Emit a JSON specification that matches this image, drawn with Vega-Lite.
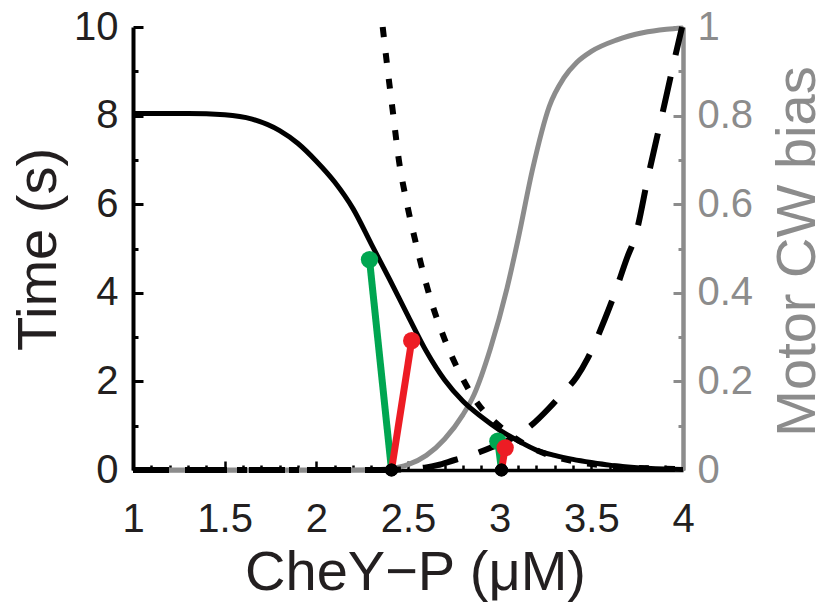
{
  "$schema": "https://vega.github.io/schema/vega-lite/v6.json",
  "width": 550,
  "height": 443,
  "autosize": {"type": "none"},
  "padding": {"left": 133, "top": 27, "right": 142, "bottom": 136},
  "background": "white",
  "config": {
    "view": {"stroke": null},
    "font": "Liberation Sans",
    "axis": {"grid": false, "labelFont": "Liberation Sans", "titleFont": "Liberation Sans", "titleFontWeight": "normal", "labelFontSize": 40, "titleFontSize": 56, "labelOverlap": false, "labelFlush": false}
  },
  "datasets": {
    "bias": [
      {"x": 1.0, "b": 0}, {"x": 1.5, "b": 0}, {"x": 2.0, "b": 0}, {"x": 2.3, "b": 0.0005},
      {"x": 2.4, "b": 0.003}, {"x": 2.5, "b": 0.012}, {"x": 2.6, "b": 0.033}, {"x": 2.7, "b": 0.07},
      {"x": 2.8, "b": 0.125}, {"x": 2.86, "b": 0.17}, {"x": 2.95, "b": 0.275}, {"x": 3.04, "b": 0.41},
      {"x": 3.1, "b": 0.52}, {"x": 3.18, "b": 0.68}, {"x": 3.27, "b": 0.82}, {"x": 3.35, "b": 0.885},
      {"x": 3.42, "b": 0.92}, {"x": 3.5, "b": 0.945}, {"x": 3.64, "b": 0.971}, {"x": 3.78, "b": 0.987},
      {"x": 3.91, "b": 0.995}, {"x": 4.0, "b": 0.998}
    ],
    "curve": [
      {"x": 1.0, "t": 8.05}, {"x": 1.3, "t": 8.05}, {"x": 1.5, "t": 8.02}, {"x": 1.65, "t": 7.92},
      {"x": 1.8, "t": 7.66}, {"x": 1.9, "t": 7.37}, {"x": 2.0, "t": 6.97}, {"x": 2.1, "t": 6.5},
      {"x": 2.2, "t": 5.9}, {"x": 2.3, "t": 5.1}, {"x": 2.4, "t": 4.3}, {"x": 2.5, "t": 3.48},
      {"x": 2.6, "t": 2.68}, {"x": 2.7, "t": 2.03}, {"x": 2.8, "t": 1.55}, {"x": 2.9, "t": 1.2},
      {"x": 3.0, "t": 0.9}, {"x": 3.1, "t": 0.66}, {"x": 3.2, "t": 0.45}, {"x": 3.3, "t": 0.33},
      {"x": 3.4, "t": 0.24}, {"x": 3.5, "t": 0.17}, {"x": 3.6, "t": 0.11}, {"x": 3.7, "t": 0.07},
      {"x": 3.8, "t": 0.04}, {"x": 3.9, "t": 0.02}, {"x": 4.0, "t": 0.01}
    ],
    "dotted": [
      {"seg": "low", "x": 1.0, "t": 0}, {"seg": "low", "x": 2.36, "t": 0},
      {"seg": "high", "x": 2.362, "t": 10}, {"seg": "high", "x": 2.39, "t": 9.0},
      {"seg": "high", "x": 2.42, "t": 8.0}, {"seg": "high", "x": 2.45, "t": 7.0},
      {"seg": "high", "x": 2.49, "t": 6.1}, {"seg": "high", "x": 2.55, "t": 5.0},
      {"seg": "high", "x": 2.62, "t": 3.9}, {"seg": "high", "x": 2.7, "t": 2.95},
      {"seg": "high", "x": 2.8, "t": 2.05}, {"seg": "high", "x": 2.88, "t": 1.5},
      {"seg": "high", "x": 2.98, "t": 1.06}, {"seg": "high", "x": 3.05, "t": 0.82},
      {"seg": "high", "x": 3.2, "t": 0.45}, {"seg": "high", "x": 3.4, "t": 0.2},
      {"seg": "high", "x": 3.6, "t": 0.09}, {"seg": "high", "x": 3.8, "t": 0.04},
      {"seg": "high", "x": 4.0, "t": 0.02}
    ],
    "dashed": [
      {"x": 1.0, "t": 0}, {"x": 2.4, "t": 0}, {"x": 2.5, "t": 0.02}, {"x": 2.6, "t": 0.06},
      {"x": 2.66, "t": 0.11}, {"x": 2.75, "t": 0.22}, {"x": 2.85, "t": 0.34}, {"x": 2.95, "t": 0.5},
      {"x": 3.06, "t": 0.7}, {"x": 3.17, "t": 1.0}, {"x": 3.27, "t": 1.4}, {"x": 3.34, "t": 1.72},
      {"x": 3.42, "t": 2.1}, {"x": 3.48, "t": 2.52}, {"x": 3.575, "t": 3.42}, {"x": 3.62, "t": 3.9},
      {"x": 3.695, "t": 4.79}, {"x": 3.74, "t": 5.28}, {"x": 3.81, "t": 6.63}, {"x": 3.89, "t": 8.09},
      {"x": 3.95, "t": 9.2}, {"x": 3.995, "t": 10}
    ],
    "stems": [
      {"pair": 1, "model": "A", "end": "base", "x": 2.41, "t": 0},
      {"pair": 1, "model": "A", "end": "tip", "x": 2.29, "t": 4.75},
      {"pair": 1, "model": "B", "end": "base", "x": 2.41, "t": 0},
      {"pair": 1, "model": "B", "end": "tip", "x": 2.52, "t": 2.92},
      {"pair": 2, "model": "A", "end": "base", "x": 3.01, "t": 0},
      {"pair": 2, "model": "A", "end": "tip", "x": 2.99, "t": 0.65},
      {"pair": 2, "model": "B", "end": "base", "x": 3.01, "t": 0},
      {"pair": 2, "model": "B", "end": "tip", "x": 3.03, "t": 0.5}
    ]
  },
  "layer": [
    {
      "data": {"name": "bias"},
      "mark": {"type": "line", "color": "#8c8c8c", "strokeWidth": 5, "interpolate": "monotone"},
      "encoding": {
        "x": {
          "field": "x", "type": "quantitative",
          "scale": {"domain": [1, 4], "nice": false, "zero": false},
          "axis": {
            "orient": "bottom",
            "values": [1, 1.5, 2, 2.5, 3, 3.5, 4],
            "format": "~g",
            "labelOverlap": false, "labelFlush": false, "labelBound": false,
            "tickSize": -9,
            "tickColor": "black", "tickWidth": 2.5,
            "domainColor": "black", "domainWidth": 3.5,
            "labelColor": "#231f20", "labelPadding": 38,
            "title": "CheY−P (μM)", "titleColor": "#231f20",
            "titleX": 282, "titleY": 119, "titleAlign": "center", "titleBaseline": "alphabetic"
          }
        },
        "y": {
          "field": "b", "type": "quantitative",
          "scale": {"domain": [0, 1], "nice": false},
          "axis": {
            "orient": "right",
            "values": [0, 0.1, 0.2, 0.3, 0.4, 0.5, 0.6, 0.7, 0.8, 0.9, 1],
            "labelExpr": "abs(datum.value*5 - round(datum.value*5)) < 0.001 ? format(datum.value, '~g') : ''",
            "tickSize": {"condition": {"test": "abs(datum.value*5 - round(datum.value*5)) < 0.001", "value": -10}, "value": -5},
            "tickColor": "#8c8c8c", "tickWidth": 3,
            "domainColor": "#8c8c8c", "domainWidth": 4.5,
            "labelColor": "#8c8c8c", "labelPadding": 24, "labelAlign": "left", "labelBaseline": "middle",
            "title": "Motor CW bias", "titleColor": "#8c8c8c",
            "titleAngle": 270, "titleX": 131, "titleY": 224, "titleAlign": "center", "titleBaseline": "alphabetic"
          }
        }
      }
    },
    {
      "data": {"name": "dashed"},
      "mark": {"type": "line", "color": "black", "strokeWidth": 6, "strokeDash": [36, 22], "interpolate": "monotone"},
      "encoding": {
        "x": {
          "field": "x", "type": "quantitative",
          "axis": {
            "orient": "bottom",
            "values": [1.1, 1.2, 1.3, 1.4, 1.6, 1.7, 1.8, 1.9, 2.1, 2.2, 2.3, 2.4, 2.6, 2.7, 2.8, 2.9, 3.1, 3.2, 3.3, 3.4, 3.6, 3.7, 3.8, 3.9],
            "labels": false, "domain": false, "title": null,
            "tickSize": -5, "tickColor": "black", "tickWidth": 2.5
          }
        },
        "y": {
          "field": "t", "type": "quantitative",
          "scale": {"domain": [0, 10], "nice": false},
          "axis": {
            "orient": "left",
            "values": [0, 1, 2, 3, 4, 5, 6, 7, 8, 9, 10],
            "labelExpr": "datum.value % 2 == 0 ? format(datum.value, '~g') : ''",
            "tickSize": {"condition": {"test": "datum.value % 2 == 0", "value": -10}, "value": -5},
            "tickColor": "black", "tickWidth": 3,
            "domainColor": "black", "domainWidth": 4,
            "labelColor": "#231f20", "labelPadding": 25, "labelAlign": "right", "labelBaseline": "middle",
            "title": "Time (s)", "titleColor": "#231f20",
            "titleAngle": 270, "titleX": -78, "titleY": 222, "titleAlign": "center", "titleBaseline": "alphabetic"
          }
        }
      }
    },
    {
      "data": {"name": "dotted"},
      "mark": {"type": "line", "color": "black", "strokeWidth": 6, "strokeDash": [10, 16], "interpolate": "monotone"},
      "encoding": {
        "x": {"field": "x", "type": "quantitative", "axis": null},
        "y": {"field": "t", "type": "quantitative", "scale": {"domain": [0, 10], "nice": false}, "axis": null},
        "detail": {"field": "seg"}
      }
    },
    {
      "data": {"name": "curve"},
      "mark": {"type": "line", "color": "black", "strokeWidth": 5, "interpolate": "monotone"},
      "encoding": {
        "x": {"field": "x", "type": "quantitative", "axis": null},
        "y": {"field": "t", "type": "quantitative", "scale": {"domain": [0, 10], "nice": false}, "axis": null}
      }
    },
    {
      "data": {"name": "stems"},
      "mark": {"type": "line", "strokeWidth": 7},
      "encoding": {
        "x": {"field": "x", "type": "quantitative", "axis": null},
        "y": {"field": "t", "type": "quantitative", "scale": {"domain": [0, 10], "nice": false}, "axis": null},
        "detail": {"field": "pair"},
        "order": {"field": "end"},
        "color": {"field": "model", "type": "nominal", "scale": {"domain": ["A", "B"], "range": ["#00a651", "#ed1c24"]}, "legend": null}
      }
    },
    {
      "data": {"name": "stems"},
      "transform": [{"filter": "datum.end == 'tip'"}],
      "mark": {"type": "circle", "opacity": 1, "size": 300},
      "encoding": {
        "x": {"field": "x", "type": "quantitative", "axis": null},
        "y": {"field": "t", "type": "quantitative", "scale": {"domain": [0, 10], "nice": false}, "axis": null},
        "color": {"field": "model", "type": "nominal", "scale": {"domain": ["A", "B"], "range": ["#00a651", "#ed1c24"]}, "legend": null}
      }
    },
    {
      "data": {"name": "stems"},
      "transform": [{"filter": "datum.end == 'base'"}],
      "mark": {"type": "circle", "opacity": 1, "size": 170, "color": "black"},
      "encoding": {
        "x": {"field": "x", "type": "quantitative", "axis": null},
        "y": {"field": "t", "type": "quantitative", "scale": {"domain": [0, 10], "nice": false}, "axis": null}
      }
    }
  ],
  "resolve": {"scale": {"y": "independent"}, "axis": {"x": "independent"}}
}
